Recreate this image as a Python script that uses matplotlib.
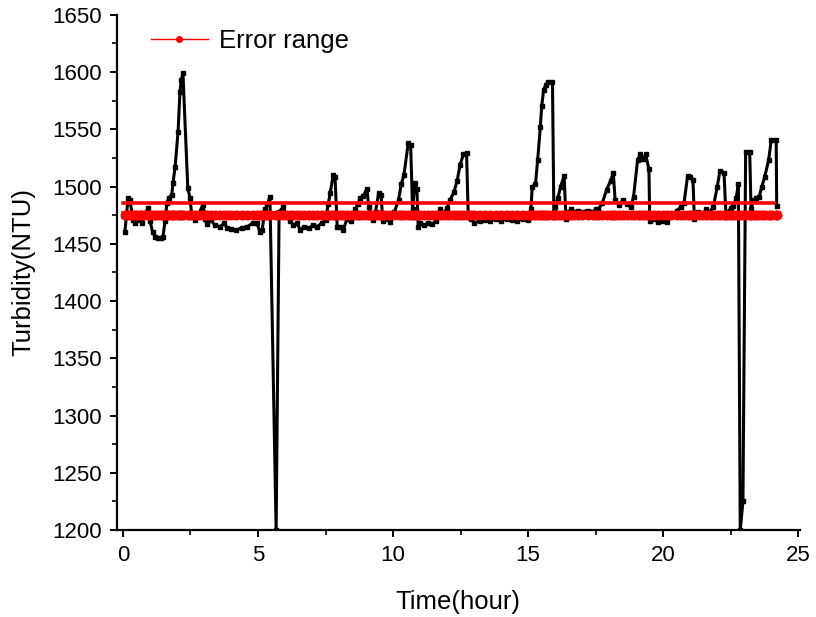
import numpy as np
import matplotlib
matplotlib.use("Agg")
import matplotlib.pyplot as plt
from matplotlib.lines import Line2D
from matplotlib.ticker import MultipleLocator

plt.rcParams['font.family'] = ['Liberation Sans', 'DejaVu Sans']

time_hour = [
    0.07, 0.19, 0.26, 0.37, 0.44, 0.52, 0.63, 0.70, 0.80, 0.93,
    1.00, 1.10, 1.20, 1.30, 1.40, 1.48, 1.56, 1.63, 1.70, 1.81,
    1.85, 1.93, 2.04, 2.11, 2.16, 2.22, 2.40, 2.48, 2.55, 2.67,
    2.80, 2.96, 3.05, 3.10, 3.25, 3.40, 3.60, 3.75, 3.85, 4.00,
    4.20, 4.40, 4.60, 4.80, 4.96, 5.07, 5.15, 5.26, 5.35, 5.44,
    5.67, 5.78, 5.93, 6.05, 6.20, 6.30, 6.45, 6.56, 6.70, 6.90,
    7.05, 7.20, 7.35, 7.50, 7.60, 7.67, 7.78, 7.85, 7.93, 8.05,
    8.15, 8.30, 8.45, 8.60, 8.70, 8.78, 8.90, 9.03, 9.10, 9.20,
    9.27, 9.35, 9.46, 9.55, 9.62, 9.75, 9.90, 10.05, 10.20, 10.30,
    10.40, 10.56, 10.65, 10.72, 10.80, 10.88, 10.93, 11.00, 11.15, 11.30,
    11.45, 11.60, 11.74, 11.85, 12.00, 12.10, 12.25, 12.37, 12.48, 12.60,
    12.72, 12.78, 12.90, 13.00, 13.20, 13.40, 13.60, 13.80, 14.00, 14.20,
    14.40, 14.60, 14.80, 15.00, 15.10, 15.15, 15.27, 15.35, 15.45, 15.50,
    15.57, 15.65, 15.75, 15.90, 15.95, 16.00, 16.10, 16.20, 16.33, 16.40,
    16.50, 16.60, 16.70, 16.85, 17.00, 17.20, 17.40, 17.50, 17.60, 17.75,
    17.90, 18.05, 18.15, 18.22, 18.35, 18.50, 18.65, 18.80, 18.90, 19.05,
    19.15, 19.25, 19.35, 19.47, 19.50, 19.65, 19.80, 20.00, 20.15, 20.30,
    20.50, 20.65, 20.77, 20.90, 21.00, 21.10, 21.15, 21.30, 21.45, 21.60,
    21.72, 21.85, 22.00, 22.10, 22.25, 22.32, 22.40, 22.50, 22.60, 22.70,
    22.78, 22.85, 22.95, 23.05, 23.20, 23.25, 23.35, 23.45, 23.55, 23.65,
    23.75, 23.90, 24.00, 24.18, 24.20,
]

turbidity = [
    1460, 1490, 1488, 1471, 1468, 1472, 1471, 1468, 1476, 1481,
    1470, 1460, 1456, 1455, 1455, 1456, 1470, 1486, 1490, 1493,
    1503, 1517, 1548, 1583, 1593, 1599, 1499, 1490, 1475, 1471,
    1476, 1484, 1472, 1467, 1471, 1466, 1465, 1468, 1464, 1463,
    1462, 1464, 1465, 1468, 1468, 1460, 1462, 1480, 1485, 1491,
    1200, 1478, 1482, 1475, 1470, 1466, 1468, 1462, 1465, 1464,
    1466, 1465, 1468, 1471, 1485, 1494, 1510, 1508, 1465, 1465,
    1462, 1472, 1470, 1480, 1485, 1490, 1492, 1498, 1482, 1475,
    1471, 1478, 1494, 1493, 1470, 1472, 1469, 1478, 1488, 1502,
    1510, 1538, 1536, 1480, 1503, 1498, 1465, 1468, 1466, 1468,
    1467, 1470, 1480, 1476, 1481, 1488, 1495, 1505, 1519, 1528,
    1529, 1475, 1472, 1468, 1470, 1471, 1470, 1472, 1470, 1472,
    1471, 1470, 1472, 1471, 1480, 1500, 1502, 1523, 1552, 1570,
    1584, 1589, 1591, 1591, 1478, 1482, 1490, 1500, 1509, 1472,
    1478, 1480, 1478, 1479, 1478, 1479, 1478, 1480, 1480, 1486,
    1497, 1505, 1512, 1488, 1484, 1488, 1485, 1482, 1491, 1523,
    1528, 1524, 1528, 1515, 1470, 1472, 1469, 1470, 1469, 1474,
    1479, 1482, 1486, 1509, 1508, 1506, 1472, 1478, 1476, 1480,
    1478, 1482, 1500, 1514, 1512, 1475, 1478, 1481, 1483, 1490,
    1502, 1200, 1225, 1530, 1530, 1480, 1488, 1490, 1491, 1500,
    1508, 1523, 1541, 1541, 1483,
]

error_upper = 1486
error_lower = 1475
error_span = [0.0, 24.1]

x_ticks = [0, 5, 10, 15, 20, 25]
y_ticks = [1200, 1250, 1300, 1350, 1400, 1450, 1500, 1550, 1600, 1650]

fig = plt.figure(figsize=(8.16, 6.17), dpi=100)
ax = fig.add_axes([0.1434, 0.141, 0.8366, 0.835])

ax.plot(time_hour, turbidity, color='black', lw=2.2, marker='s',
        markersize=3.0, zorder=3)

ax.plot(error_span, [error_upper, error_upper], color='#ff0000', lw=2.6, zorder=4)
ax.plot(time_hour, np.full(len(time_hour), error_lower), color='#ff0000',
        lw=5.5, marker='o', markersize=7.2, markeredgewidth=0, zorder=4)

handle = Line2D([], [], color='#ff0000', lw=1.0, marker='o', markersize=5,
                markeredgewidth=0)
ax.legend([handle], ['Error range'], loc='upper left', frameon=False,
          fontsize=18.5, handlelength=2.2, handletextpad=0.45,
          bbox_to_anchor=(0.035, 0.992), borderaxespad=0.0)

ax.set_xlim(-0.22, 25.05)
ax.set_ylim(1200, 1650)
ax.set_xticks(x_ticks)
ax.set_yticks(y_ticks)
ax.xaxis.set_minor_locator(MultipleLocator(2.5))
ax.yaxis.set_minor_locator(MultipleLocator(25))

for side in ['top', 'right']:
    ax.spines[side].set_visible(False)
for side in ['left', 'bottom']:
    ax.spines[side].set_linewidth(1.6)

ax.tick_params(which='major', direction='out', length=5, width=1.4,
               labelsize=16, pad=6)
ax.tick_params(which='minor', direction='out', length=3.5, width=1.2)

ax.set_xlabel('Time(hour)', fontsize=18.5, labelpad=17)
ax.set_ylabel('Turbidity(NTU)', fontsize=18.5, labelpad=12)

fig.savefig('out.png', dpi=100)
